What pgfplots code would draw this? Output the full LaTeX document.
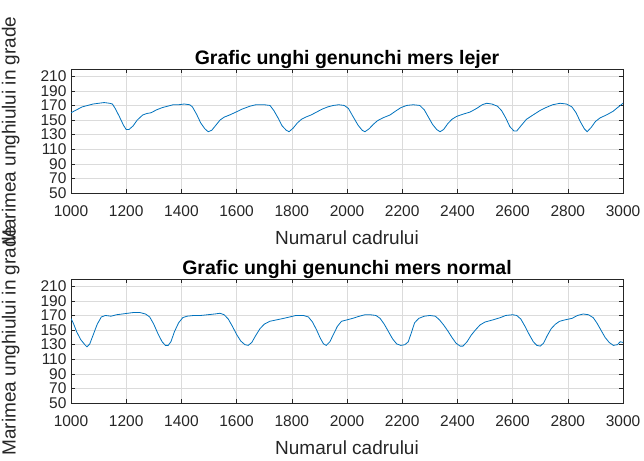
\documentclass[border=0pt]{standalone}
\usepackage{pgfplots}
\pgfplotsset{compat=1.18}
\usepackage{fontspec}
\setmainfont{Liberation Sans}

\definecolor{mblue}{rgb}{0,0.447,0.741}
\definecolor{mgrid}{rgb}{0.86,0.86,0.86}
\definecolor{maxis}{rgb}{0.15,0.15,0.15}

\pgfplotsset{
  mstyle/.style={
    scale only axis, width=552pt, height=124pt,
    anchor=south west,
    xmin=1000, xmax=3000, ymin=50, ymax=220,
    xtick={1000,1200,...,3000}, ytick={50,70,...,210},
    grid=major, major grid style={mgrid, line width=0.5pt},
    tick align=inside, major tick length=4pt,
    axis line style={maxis, line width=0.6pt},
    tick style={maxis, line width=0.5pt},
    ticklabel style={font=\fontsize{15.5}{15.5}\selectfont, text=maxis},
    xticklabel style={yshift=-9pt},
    yticklabel style={xshift=-1pt},
    /pgf/number format/assume math mode=true,
    /pgf/number format/1000 sep={},
    label style={font=\fontsize{19}{19}\selectfont, text=maxis},
    ylabel style={at={(axis description cs:-0.109,0.5)}, anchor=center, rotate=0},
    xlabel style={at={(axis description cs:0.5,-0.363)}, anchor=center},
    title style={font=\bfseries\fontsize{19.5}{19.5}\selectfont, anchor=base,
      at={(axis description cs:0.5,1.04)}, yshift=-6pt},
    ylabel={Marimea unghiului in grade},
    xlabel={Numarul cadrului},
  }
}

\begin{document}
\begin{tikzpicture}
\begin{axis}[mstyle, at={(71pt,267pt)},
  title={Grafic unghi genunchi mers lejer}]
\addplot[mblue, line width=0.8pt] coordinates {
(1000,160) (1020,164) (1040,168) (1060,170) (1080,172) (1100,173) (1120,174) (1140,173)
(1150,172) (1160,166) (1175,155) (1190,143) (1200,137) (1210,137) (1225,142) (1240,150)
(1260,157) (1275,159) (1290,160) (1310,164) (1330,167) (1350,169) (1370,171) (1390,171)
(1410,172) (1430,171) (1440,168) (1455,158) (1470,146) (1485,138) (1497,134) (1510,136)
(1525,143) (1540,150) (1555,154) (1575,157) (1598,161) (1620,165) (1648,169) (1670,171)
(1700,171) (1721,170) (1735,163) (1750,153) (1765,142) (1780,136) (1790,134) (1805,139)
(1820,146) (1835,151) (1850,154) (1870,157) (1890,161) (1910,165) (1930,168) (1950,170)
(1970,171) (1990,170) (2005,166) (2020,156) (2040,143) (2055,136) (2065,134) (2080,138)
(2095,144) (2110,149) (2130,153) (2156,157) (2175,162) (2195,167) (2216,170) (2240,171)
(2264,170) (2280,164) (2295,154) (2310,144) (2325,137) (2337,134) (2350,137) (2365,145)
(2380,151) (2397,155) (2420,158) (2446,161) (2470,166) (2490,171) (2506,173) (2525,172)
(2545,169) (2560,163) (2575,153) (2590,141) (2605,135) (2615,135) (2630,142) (2650,151)
(2670,156) (2699,163) (2720,167) (2745,171) (2772,173) (2795,172) (2815,168) (2830,160)
(2845,148) (2860,138) (2870,134) (2885,140) (2900,148) (2917,153) (2940,157) (2964,162)
(2980,167) (3000,173)
};
\end{axis}
\begin{axis}[mstyle, at={(71pt,57pt)},
  title={Grafic unghi genunchi mers normal}]
\addplot[mblue, line width=0.8pt] coordinates {
(1000,166) (1010,158) (1020,148) (1035,137) (1050,130) (1058,127) (1068,131) (1080,143)
(1095,158) (1110,168) (1125,170) (1145,169) (1165,171) (1185,172) (1205,173) (1225,174)
(1250,174) (1270,172) (1285,168) (1300,158) (1315,145) (1330,134) (1342,129) (1352,129)
(1362,134) (1375,148) (1390,160) (1405,167) (1420,169) (1445,170) (1470,170) (1495,171)
(1520,172) (1540,173) (1555,171) (1570,165) (1585,155) (1600,144) (1615,135) (1630,130)
(1642,129) (1655,133) (1670,143) (1685,152) (1700,158) (1720,162) (1745,164) (1770,166)
(1793,168) (1815,170) (1842,170) (1860,168) (1875,161) (1890,150) (1903,139) (1915,131)
(1925,129) (1938,134) (1952,145) (1965,155) (1980,162) (2000,164) (2020,166) (2045,169)
(2065,171) (2085,171) (2105,170) (2120,166) (2135,158) (2150,148) (2165,138) (2180,131)
(2195,129) (2210,130) (2222,134) (2232,145) (2245,160) (2260,166) (2280,169) (2300,170)
(2320,169) (2335,164) (2350,157) (2365,149) (2380,140) (2395,132) (2410,128) (2420,128)
(2435,134) (2450,143) (2465,150) (2482,157) (2500,161) (2529,164) (2555,167) (2575,170)
(2600,171) (2615,170) (2630,165) (2645,155) (2660,144) (2675,134) (2688,129) (2700,128)
(2712,132) (2725,142) (2740,152) (2755,158) (2770,162) (2790,164) (2815,166) (2835,170)
(2856,172) (2875,171) (2892,167) (2905,160) (2920,150) (2935,140) (2950,133) (2965,129)
(2980,130) (2990,134) (3000,133)
};
\end{axis}
\pgfresetboundingbox
\useasboundingbox (0,0) rectangle (644pt,460pt);
\end{tikzpicture}
\end{document}
